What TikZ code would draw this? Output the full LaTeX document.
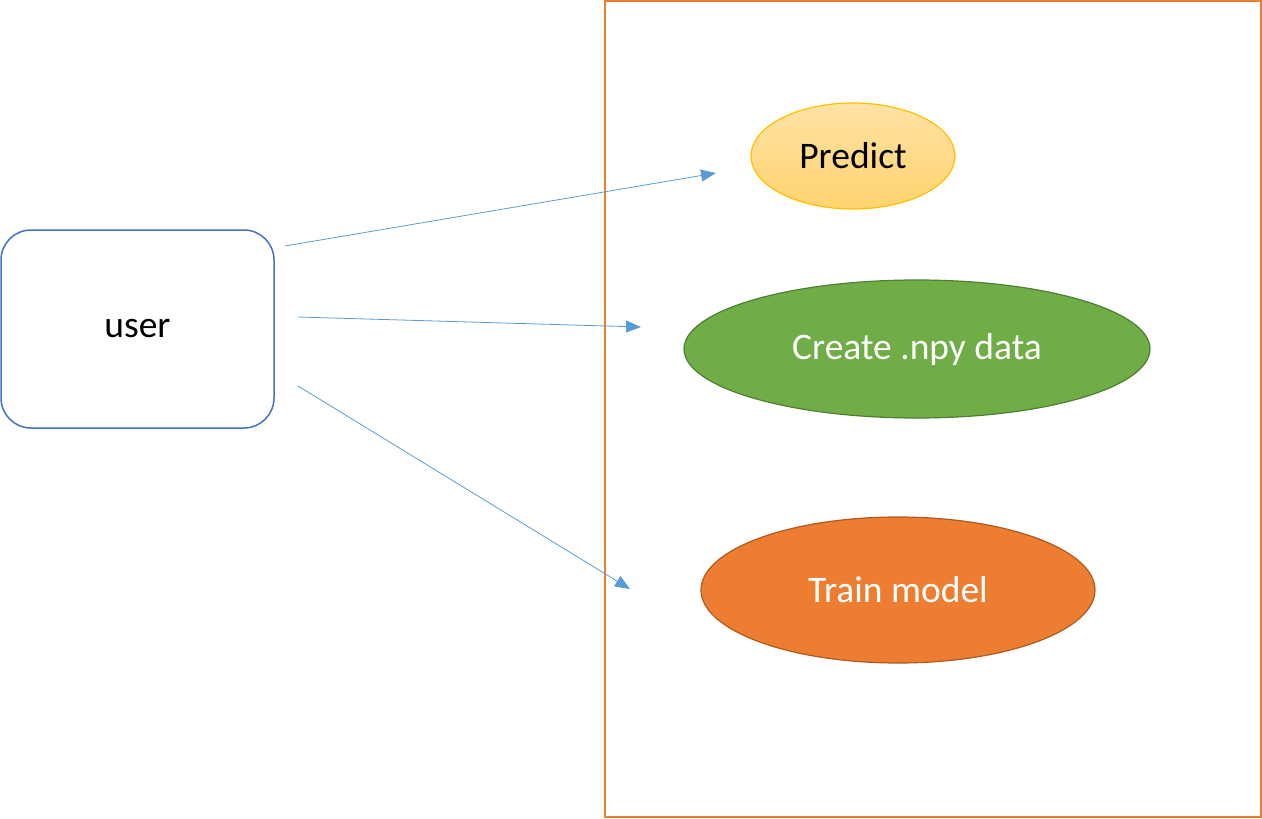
\documentclass[tikz,border=0pt]{standalone}
\usepackage{fontspec}
\setmainfont{Carlito}
\usetikzlibrary{shapes.geometric,arrows.meta}
\definecolor{sysorange}{HTML}{ED7D31}
\definecolor{userblue}{HTML}{4472C4}
\definecolor{linkblue}{HTML}{5B9BD5}
\definecolor{npygreen}{HTML}{70AD47}
\definecolor{npyedge}{HTML}{507E32}
\definecolor{trainedge}{HTML}{AE5A21}
\definecolor{predtop}{HTML}{FFE2A4}
\definecolor{predbot}{HTML}{FFD36F}
\definecolor{prededge}{HTML}{FFC000}
\tikzset{
  usecase/.style={ellipse, line width=1.2pt, inner sep=0pt, font=\fontsize{37.5}{42}\selectfont},
  link/.style={draw=linkblue, line width=0.8pt, -{Triangle[length=15pt,width=12pt]}}
}
\begin{document}
\begin{tikzpicture}[x=1pt,y=-1pt]
\useasboundingbox (0,0) rectangle (1262,819);
% system boundary
\draw[sysorange,line width=1.5pt] (605,1) rectangle (1261,817);
% actor
\node[draw=userblue,line width=1.5pt,rounded corners=30pt,minimum width=273pt,minimum height=198pt,font=\fontsize{37.5}{42}\selectfont] (user) at (137.5,329) {user};
% use cases
\node[usecase,draw=prededge,top color=predtop,bottom color=predbot,minimum width=204pt,minimum height=106pt] (predict) at (853,156) {Predict};
\node[usecase,draw=npyedge,fill=npygreen,text=white,minimum width=466pt,minimum height=138pt] (npy) at (917,349) {Create .npy data};
\node[usecase,draw=trainedge,fill=sysorange,text=white,minimum width=394pt,minimum height=146pt] (train) at (898,590) {Train model};
% arrow ends
\coordinate (u1) at (285,246);
\coordinate (u2) at (298,317);
\coordinate (u3) at (298,386);
\coordinate (p1) at (716,173);
\coordinate (n1) at (641,327);
\coordinate (t1) at (630,589);
\draw[link] (u1) -- (p1);
\draw[link] (u2) -- (n1);
\draw[link] (u3) -- (t1);
\end{tikzpicture}
\end{document}
